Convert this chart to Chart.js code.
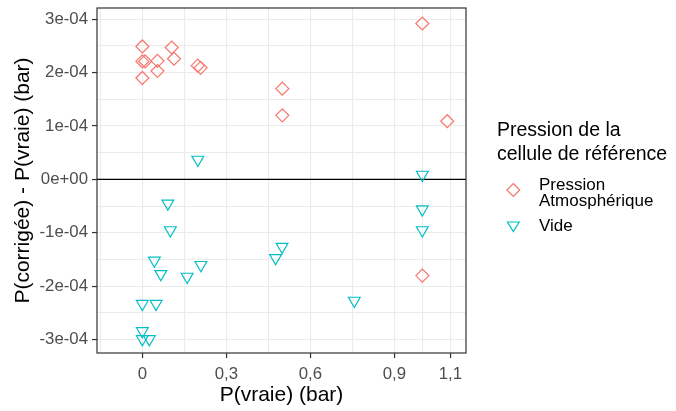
<!DOCTYPE html>
<html>
<head>
<meta charset="utf-8">
<script src="https://cdn.jsdelivr.net/npm/chart.js@4.4.1/dist/chart.umd.min.js"></script>
<style>
    html, body { margin: 0; padding: 0; background: #ffffff; }
    #wrap { position: relative; width: 676px; height: 411px; }
</style>
</head>
<body>
<div id="wrap"><canvas id="graphCorr"></canvas></div>
<script>
// Données (P vraie en bar, écart en bar)
const atmX = [0, 0, 0.01, 0, 0.054, 0.054, 0.105, 0.113, 0.198, 0.208, 0.5, 0.5, 1.0, 1.089, 1.0];
const atmY = [2.49e-4, 2.21e-4, 2.21e-4, 1.90e-4, 2.22e-4, 2.03e-4, 2.47e-4, 2.26e-4, 2.13e-4, 2.09e-4, 1.70e-4, 1.20e-4, 2.92e-4, 1.09e-4, -1.80e-4];

const videX = [0.198, 0.091, 0.1, 0.043, 0.066, 0.16, 0.209, 0, 0.049, 0, 0, 0.025, 0.476, 0.499, 1.0, 1.0, 1.0, 0.757];
const videY = [0.37e-4, -0.45e-4, -0.95e-4, -1.52e-4, -1.77e-4, -1.82e-4, -1.60e-4, -2.33e-4, -2.33e-4, -2.84e-4, -2.99e-4, -2.99e-4, -1.47e-4, -1.26e-4, 0.09e-4, -0.56e-4, -0.95e-4, -2.27e-4];

// Graduations
const xTicksMaj = [0, 0.3, 0.6, 0.9, 1.1];
const xTickLabels = ['0', '0,3', '0,6', '0,9', '1,1'];
const xTicksMin = [-0.15, 0.15, 0.45, 0.75, 1.0];
const yTicksMaj = [-3e-4, -2e-4, -1e-4, 0, 1e-4, 2e-4, 3e-4];
const yTickLabels = ['-3e-04', '-2e-04', '-1e-04', '0e+00', '1e-04', '2e-04', '3e-04'];
const yTicksMin = [-2.5e-4, -1.5e-4, -0.5e-4, 0.5e-4, 1.5e-4, 2.5e-4];

const legendTitle = ['Pression de la', 'cellule de référence'];
const seriesNames = [['Pression', 'Atmosphérique'], ['Vide']];

const rouge = '#F8766D';
const cyan = '#00BFC4';
const police = 'Arial, "Liberation Sans", sans-serif';

function toPoints(xs, ys) {
    return xs.map((x, i) => ({ x: x, y: ys[i] }));
}

function isMajor(list, v) {
    return list.some(m => Math.abs(m - v) < 1e-9);
}

function labelFor(list, labels, v) {
    for (let i = 0; i < list.length; i++) {
        if (Math.abs(list[i] - v) < 1e-9) return labels[i];
    }
    return '';
}

// ligne horizontale à zéro + cadre du panneau
const panneauPlugin = {
    id: 'panneau',
    beforeDatasetsDraw(chart) {
        const ctx = chart.ctx;
        const area = chart.chartArea;
        const y0 = chart.scales.y.getPixelForValue(0);
        ctx.save();
        ctx.strokeStyle = '#000000';
        ctx.lineWidth = 1.2;
        ctx.beginPath();
        ctx.moveTo(area.left, y0);
        ctx.lineTo(area.right, y0);
        ctx.stroke();
        ctx.restore();
    },
    afterDatasetsDraw(chart) {
        const ctx = chart.ctx;
        const a = chart.chartArea;
        ctx.save();
        ctx.strokeStyle = '#333333';
        ctx.lineWidth = 1.2;
        ctx.strokeRect(a.left, a.top, a.right - a.left, a.bottom - a.top);
        ctx.restore();
    }
};

// légende façon ggplot
const legendePlugin = {
    id: 'legende',
    afterDraw(chart) {
        const ctx = chart.ctx;
        ctx.save();
        ctx.fillStyle = '#000000';
        ctx.textBaseline = 'alphabetic';
        ctx.textAlign = 'left';
        ctx.font = '19.5px ' + police;
        ctx.fillText(legendTitle[0], 497, 136);
        ctx.fillText(legendTitle[1], 497, 160);

        ctx.font = '17px ' + police;
        ctx.fillText(seriesNames[0][0], 539, 189.5);
        ctx.fillText(seriesNames[0][1], 539, 206);
        ctx.fillText(seriesNames[1][0], 539, 230.5);

        // losange
        ctx.lineWidth = 1.2;
        ctx.strokeStyle = rouge;
        ctx.beginPath();
        ctx.moveTo(513.3, 183.5);
        ctx.lineTo(519.8, 190);
        ctx.lineTo(513.3, 196.5);
        ctx.lineTo(506.8, 190);
        ctx.closePath();
        ctx.stroke();

        // triangle pointe en bas
        ctx.strokeStyle = cyan;
        ctx.beginPath();
        ctx.moveTo(507.4, 222);
        ctx.lineTo(519.2, 222);
        ctx.lineTo(513.3, 231.5);
        ctx.closePath();
        ctx.stroke();
        ctx.restore();
    }
};

document.addEventListener('DOMContentLoaded', function() {
    const ctx = document.getElementById('graphCorr').getContext('2d');
    new Chart(ctx, {
        type: 'scatter',
        data: {
            datasets: [{
                label: 'Pression Atmosphérique',
                data: toPoints(atmX, atmY),
                pointStyle: 'rectRot',
                pointRadius: 6.5,
                pointHoverRadius: 6.5,
                borderColor: rouge,
                backgroundColor: 'rgba(0,0,0,0)',
                borderWidth: 1.2
            }, {
                label: 'Vide',
                data: toPoints(videX, videY),
                pointStyle: 'triangle',
                rotation: 180,
                pointRadius: 6.8,
                pointHoverRadius: 6.8,
                borderColor: cyan,
                backgroundColor: 'rgba(0,0,0,0)',
                borderWidth: 1.2
            }]
        },
        options: {
            responsive: true,
            maintainAspectRatio: false,
            animation: false,
            layout: {
                padding: { left: 0, right: 210, top: 6, bottom: 0 }
            },
            plugins: {
                legend: { display: false },
                tooltip: { enabled: false }
            },
            scales: {
                x: {
                    type: 'linear',
                    min: -0.162,
                    max: 1.156,
                    afterBuildTicks: function(scale) {
                        scale.ticks = xTicksMaj.concat(xTicksMin).sort((a, b) => a - b).map(v => ({ value: v }));
                    },
                    afterFit: function(scale) {
                        scale.height = 58;
                        scale.paddingLeft = 0;
                        scale.paddingRight = 0;
                    },
                    ticks: {
                        autoSkip: false,
                        maxRotation: 0,
                        padding: 6,
                        color: '#4d4d4d',
                        font: { family: police, size: 16.8 },
                        callback: function(value) {
                            return labelFor(xTicksMaj, xTickLabels, value);
                        }
                    },
                    grid: {
                        color: '#ebebeb',
                        lineWidth: 1.1,
                        tickLength: 5,
                        tickWidth: 1.2,
                        tickColor: function(c) {
                            return c.tick && isMajor(xTicksMaj, c.tick.value) ? '#333333' : 'rgba(0,0,0,0)';
                        }
                    },
                    border: { display: false },
                    title: {
                        display: true,
                        text: 'P(vraie) (bar)',
                        color: '#000000',
                        font: { family: police, size: 21 },
                        padding: { top: 4, bottom: 3.5 }
                    }
                },
                y: {
                    type: 'linear',
                    min: -3.25e-4,
                    max: 3.21e-4,
                    afterBuildTicks: function(scale) {
                        scale.ticks = yTicksMaj.concat(yTicksMin).sort((a, b) => a - b).map(v => ({ value: v }));
                    },
                    afterFit: function(scale) {
                        scale.width = 97;
                        scale.paddingTop = 0;
                        scale.paddingBottom = 0;
                    },
                    ticks: {
                        autoSkip: false,
                        padding: 4,
                        color: '#4d4d4d',
                        font: { family: police, size: 16.8 },
                        callback: function(value) {
                            return labelFor(yTicksMaj, yTickLabels, value);
                        }
                    },
                    grid: {
                        color: '#ebebeb',
                        lineWidth: 1.1,
                        tickLength: 5,
                        tickWidth: 1.2,
                        tickColor: function(c) {
                            return c.tick && isMajor(yTicksMaj, c.tick.value) ? '#333333' : 'rgba(0,0,0,0)';
                        }
                    },
                    border: { display: false },
                    title: {
                        display: true,
                        text: 'P(corrigée) - P(vraie) (bar)',
                        color: '#000000',
                        font: { family: police, size: 21 },
                        padding: { top: 11, bottom: 0 }
                    }
                }
            }
        },
        plugins: [panneauPlugin, legendePlugin]
    });
});
</script>
</body>
</html>
